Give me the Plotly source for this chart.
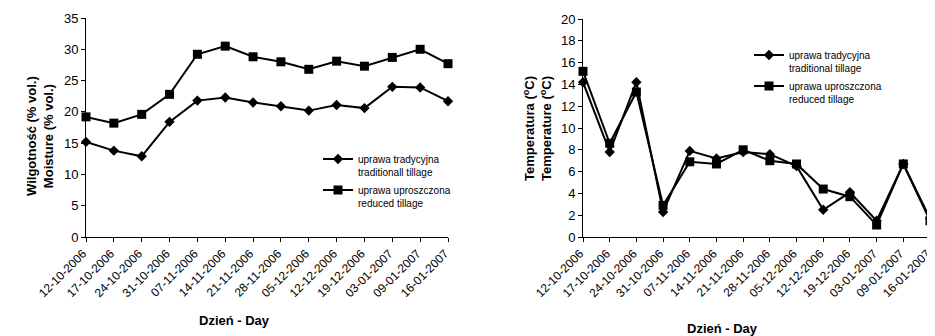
import plotly.graph_objects as go

dates = ["12-10-2006", "17-10-2006", "24-10-2006", "31-10-2006", "07-11-2006", "14-11-2006",
         "21-11-2006", "28-11-2006", "05-12-2006", "12-12-2006", "19-12-2006", "03-01-2007",
         "09-01-2007", "16-01-2007"]

moist_trad = [15.2, 13.8, 12.9, 18.4, 21.8, 22.3, 21.5, 20.9, 20.2, 21.1, 20.6, 24.0, 23.9, 21.7]
moist_red = [19.2, 18.2, 19.6, 22.8, 29.2, 30.5, 28.8, 28.0, 26.8, 28.1, 27.3, 28.7, 30.0, 27.7]

temp_trad = [14.2, 7.8, 14.2, 2.3, 7.9, 7.2, 7.8, 7.6, 6.5, 2.5, 4.1, 1.5, 6.7, 1.7]
temp_red = [15.2, 8.6, 13.3, 2.9, 6.9, 6.7, 8.0, 7.0, 6.7, 4.4, 3.7, 1.1, 6.7, 1.5]

# page has an 8px body margin; figure coordinates = page coordinates - OFF
OFF = 8
W, H = 935 - OFF, 336 - OFF
FONT = "Liberation Sans, Arial, sans-serif"

fig = go.Figure()

def add(x, y, name, symbol, size, xa, ya, leg, grp):
    fig.add_trace(go.Scatter(
        x=x, y=y, name=name, mode="lines+markers",
        line=dict(color="black", width=2),
        marker=dict(symbol=symbol, size=size, color="black"),
        xaxis=xa, yaxis=ya, legend=leg, legendgroup=grp, cliponaxis=False))

add(dates, moist_trad, "uprawa tradycyjna<br>traditionall tillage", "diamond", 8, "x", "y", "legend", "a")
add(dates, moist_red, "uprawa uproszczona<br>reduced tillage", "square", 9, "x", "y", "legend", "b")
add(dates, temp_trad, "uprawa tradycyjna<br>traditional tillage", "diamond", 8, "x2", "y2", "legend2", "c")
add(dates, temp_red, "uprawa uproszczona<br>reduced tillage", "square", 9, "x2", "y2", "legend2", "d")

def px_x(p):
    return (p - OFF) / W

def px_y(p):
    return 1 - (p - OFF) / H

axis_common = dict(showline=True, linecolor="black", linewidth=1, ticks="outside",
                   ticklen=4, tickcolor="black", showgrid=False, zeroline=False,
                   automargin=False)
xfont = dict(family=FONT, size=12, color="black")
yfont = dict(family=FONT, size=13, color="black")
legfont = dict(family=FONT, size=10, color="black")

fig.update_layout(
    width=W, height=H, margin=dict(l=0, r=0, t=0, b=0, autoexpand=False),
    paper_bgcolor="white", plot_bgcolor="white",
    font=dict(family=FONT, color="black"),
    xaxis=dict(domain=[px_x(86), px_x(448)], type="category", range=[0, 13],
               tickangle=-45, anchor="y", tickfont=xfont, ticklabelshift=-3, **axis_common),
    yaxis=dict(domain=[px_y(237), px_y(18)], range=[0, 35], dtick=5, anchor="x",
               tickfont=yfont, **axis_common),
    xaxis2=dict(domain=[px_x(583), min(1.0, px_x(930))], type="category", range=[0, 13],
                tickangle=-45, anchor="y2", tickfont=xfont, ticklabelshift=-3, **axis_common),
    yaxis2=dict(domain=[px_y(237), px_y(19)], range=[0, 20], dtick=2, anchor="x2",
                tickfont=yfont, **axis_common),
    legend=dict(x=px_x(318), y=px_y(146), xanchor="left", yanchor="top",
                bgcolor="rgba(0,0,0,0)", font=legfont, valign="top",
                itemwidth=30, tracegroupgap=2),
    legend2=dict(x=px_x(749), y=px_y(42), xanchor="left", yanchor="top",
                 bgcolor="rgba(0,0,0,0)", font=legfont, valign="top",
                 itemwidth=30, tracegroupgap=2),
    showlegend=True,
)

title_font = dict(family=FONT, size=13, color="black")
fig.add_annotation(text="<b>Wilgotność (% vol.)<br>Moisture (% vol.)</b>", textangle=-90,
                   x=px_x(40), y=px_y(136), xref="paper", yref="paper",
                   xanchor="center", yanchor="middle",
                   showarrow=False, font=title_font, align="center")
fig.add_annotation(text="<b>Temperatura (<sup>o</sup>C)<br>Temperature (<sup>o</sup>C)</b>", textangle=-90,
                   x=px_x(537), y=px_y(129), xref="paper", yref="paper",
                   xanchor="center", yanchor="middle",
                   showarrow=False, font=title_font, align="center")
fig.add_annotation(text="<b>Dzień - Day</b>", x=px_x(234), y=px_y(320), xref="paper", yref="paper",
                   xanchor="center", yanchor="middle", showarrow=False, font=title_font)
fig.add_annotation(text="<b>Dzień - Day</b>", x=px_x(722), y=px_y(328), xref="paper", yref="paper",
                   xanchor="center", yanchor="middle", showarrow=False, font=title_font)

fig.write_html("out.html")
